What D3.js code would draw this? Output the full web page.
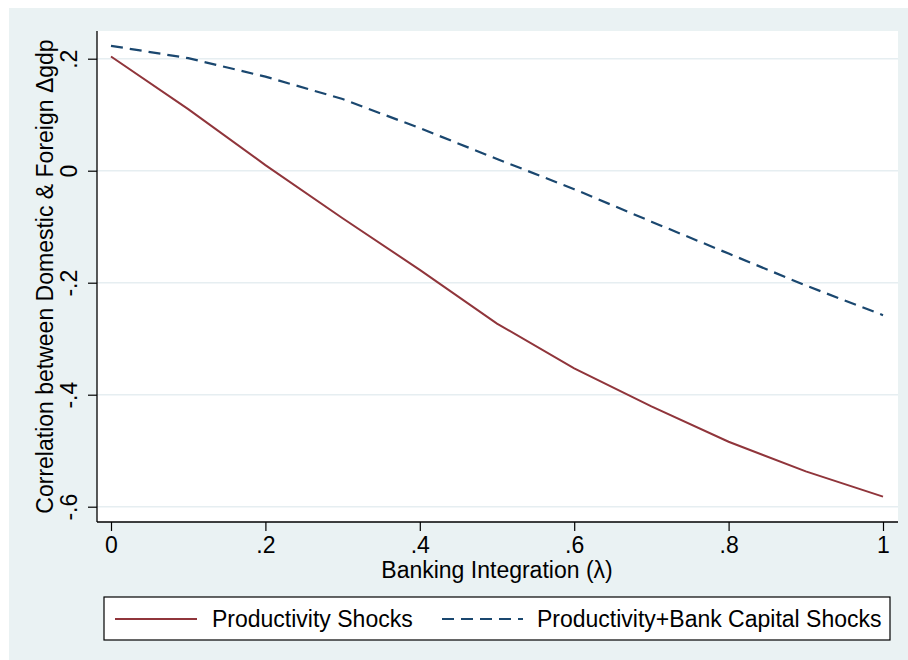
<!DOCTYPE html>
<html>
<head>
<meta charset="utf-8">
<script src="https://cdn.jsdelivr.net/npm/d3@7"></script>
<style>
  html, body { margin: 0; padding: 0; background: #ffffff; }
  svg { display: block; }
  text { font-family: "Liberation Sans", Arial, Helvetica, sans-serif; fill: #000; }
</style>
</head>
<body>
<svg id="chart" width="908" height="660"></svg>
<script>
// ---- data ----
const lambda = [0, 0.1, 0.2, 0.3, 0.4, 0.5, 0.6, 0.7, 0.8, 0.9, 1.0];
const productivityShocks = [0.204, 0.110, 0.010, -0.085, -0.177, -0.273, -0.353, -0.421, -0.484, -0.537, -0.582];
const productivityBankShocks = [0.223, 0.201, 0.168, 0.128, 0.076, 0.021, -0.033, -0.091, -0.148, -0.205, -0.258];
const xTicks = [0, 0.2, 0.4, 0.6, 0.8, 1];
const xTickLabels = ["0", ".2", ".4", ".6", ".8", "1"];
const yTicks = [0.2, 0, -0.2, -0.4, -0.6];
const yTickLabels = [".2", "0", "-.2", "-.4", "-.6"];
const seriesNames = ["Productivity Shocks", "Productivity+Bank Capital Shocks"];
const xTitle = "Banking Integration (\u03bb)";
const yTitle = "Correlation between Domestic & Foreign \u0394gdp";

// ---- layout ----
const svg = d3.select("#chart");
const bg = "#eaf2f3";
const gridColor = "#e6eef1";
const red = "#90353b";
const navy = "#1a476f";
const plot = { left: 97, right: 898, top: 31, bottom: 522 };

svg.append("rect").attr("x", 9).attr("y", 8).attr("width", 899).attr("height", 652).attr("fill", bg);
svg.append("rect").attr("x", plot.left).attr("y", plot.top)
  .attr("width", plot.right - plot.left).attr("height", plot.bottom - plot.top).attr("fill", "#fff");

const x = d3.scaleLinear().domain([0, 1]).range([111, 883]);
const y = d3.scaleLinear().domain([-0.6, 0.2]).range([506.7, 58.7]);

// gridlines
svg.append("g").selectAll("line").data(yTicks).join("line")
  .attr("x1", plot.left).attr("x2", plot.right)
  .attr("y1", d => y(d)).attr("y2", d => y(d))
  .attr("stroke", gridColor).attr("stroke-width", 1.6);

// y axis
const yAxis = d3.axisLeft(y).tickValues(yTicks).tickSize(9).tickPadding(0)
  .tickFormat((d, i) => yTickLabels[i]);
const gy = svg.append("g").attr("transform", `translate(${plot.left},0)`).call(yAxis);
gy.select(".domain").remove();
gy.selectAll(".tick line").attr("stroke", "#000").attr("stroke-width", 1.2);
gy.selectAll(".tick text")
  .attr("font-size", 23).attr("font-family", "Liberation Sans, Arial, sans-serif")
  .attr("text-anchor", "middle").attr("fill", "#000")
  .attr("x", null).attr("dy", null)
  .attr("transform", "translate(-20,0) rotate(-90)")
  .attr("y", 0);
svg.append("line").attr("x1", plot.left).attr("x2", plot.left)
  .attr("y1", plot.top).attr("y2", plot.bottom).attr("stroke", "#000").attr("stroke-width", 1.3);

// x axis
const xAxis = d3.axisBottom(x).tickValues(xTicks).tickSize(9).tickPadding(6)
  .tickFormat((d, i) => xTickLabels[i]);
const gx = svg.append("g").attr("transform", `translate(0,${plot.bottom})`).call(xAxis);
gx.select(".domain").remove();
gx.selectAll(".tick line").attr("stroke", "#000").attr("stroke-width", 1.2);
gx.selectAll(".tick text")
  .attr("font-size", 23).attr("font-family", "Liberation Sans, Arial, sans-serif")
  .attr("fill", "#000").attr("dy", null).attr("y", 31);
svg.append("line").attr("x1", plot.left).attr("x2", plot.right)
  .attr("y1", plot.bottom).attr("y2", plot.bottom).attr("stroke", "#000").attr("stroke-width", 1.3);

// axis titles
svg.append("text").attr("x", (x(0) + x(1)) / 2).attr("y", 578)
  .attr("text-anchor", "middle").attr("font-size", 23).text(xTitle);
svg.append("text")
  .attr("transform", `translate(53,${(plot.top + plot.bottom) / 2}) rotate(-90)`)
  .attr("text-anchor", "middle").attr("font-size", 23).text(yTitle);

// lines
const line = d3.line().x((d, i) => x(lambda[i])).y(d => y(d));
svg.append("path").datum(productivityShocks).attr("d", line)
  .attr("fill", "none").attr("stroke", red).attr("stroke-width", 2);
svg.append("path").datum(productivityBankShocks).attr("d", line)
  .attr("fill", "none").attr("stroke", navy).attr("stroke-width", 2.2)
  .attr("stroke-dasharray", "12,7");

// legend
const lg = svg.append("g");
lg.append("rect").attr("x", 104).attr("y", 597).attr("width", 786).attr("height", 43)
  .attr("fill", "#fff").attr("stroke", "#000").attr("stroke-width", 1.2);
lg.append("line").attr("x1", 115).attr("x2", 197).attr("y1", 619).attr("y2", 619)
  .attr("stroke", red).attr("stroke-width", 2);
lg.append("text").attr("x", 212).attr("y", 627).attr("font-size", 23).text(seriesNames[0]);
lg.append("line").attr("x1", 442).attr("x2", 523).attr("y1", 619).attr("y2", 619)
  .attr("stroke", navy).attr("stroke-width", 2.2).attr("stroke-dasharray", "12,7");
lg.append("text").attr("x", 537).attr("y", 627).attr("font-size", 23).text(seriesNames[1]);
</script>
</body>
</html>
